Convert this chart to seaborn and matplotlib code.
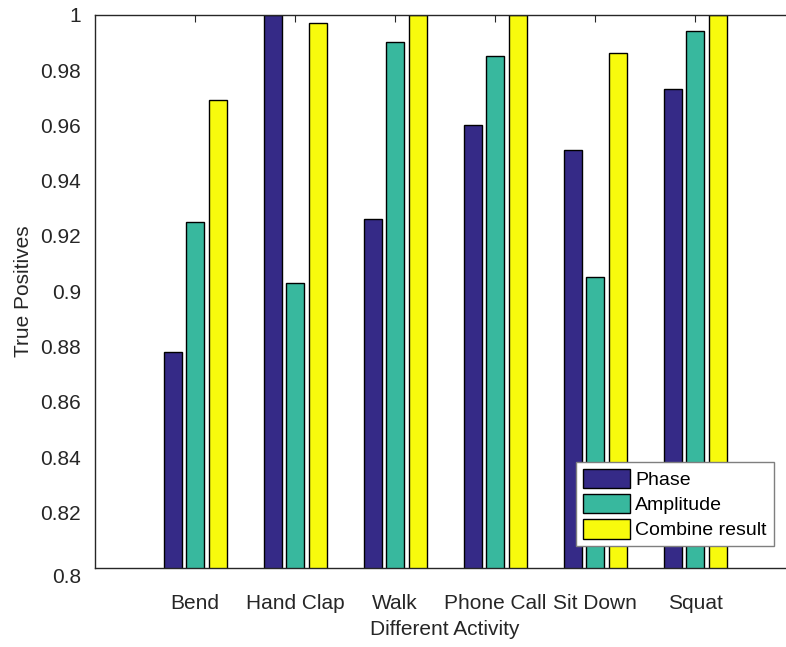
import matplotlib
matplotlib.use("Agg")
import matplotlib.pyplot as plt
import seaborn as sns
import pandas as pd

activities = ["Bend", "Hand Clap", "Walk", "Phone Call", "Sit Down", "Squat"]
methods = ["Phase", "Amplitude", "Combine result"]
phase = [0.878, 1.000, 0.926, 0.960, 0.951, 0.973]
amplitude = [0.925, 0.903, 0.990, 0.985, 0.905, 0.994]
combined = [0.969, 0.997, 1.000, 1.000, 0.986, 1.000]
y_ticks = [0.80, 0.82, 0.84, 0.86, 0.88, 0.90, 0.92, 0.94, 0.96, 0.98, 1.00]
colors = ["#352A87", "#38B89E", "#F8FA0D"]

df = pd.DataFrame({
    "Activity": activities * 3,
    "Method": [m for m in methods for _ in activities],
    "Value": phase + amplitude + combined,
})

sns.set_style("white")
plt.rcParams["font.family"] = ["Liberation Sans", "DejaVu Sans"]
ink = "#262626"

fig = plt.figure(figsize=(7.86, 6.47), dpi=100)
ax = fig.add_axes([95 / 786, 1 - 567.7 / 647, 700 / 786, (567.7 - 14.7) / 647])

sns.barplot(data=df, x="Activity", y="Value", hue="Method", order=activities,
            hue_order=methods, palette=colors, saturation=1, width=0.675, gap=0.2,
            edgecolor="black", linewidth=1.0, ax=ax, zorder=2)

ax.set_xlim(-1, 6)
ax.set_ylim(0.8, 1.0)
ax.set_yticks(y_ticks)
ax.set_yticklabels([f"{v:g}" for v in y_ticks])

for side in ["left", "top", "bottom", "right"]:
    ax.spines[side].set_visible(True)
    ax.spines[side].set_color(ink)
    ax.spines[side].set_linewidth(1.0)

ax.tick_params(axis="y", direction="in", length=5, width=0.8, colors=ink,
               labelsize=15, pad=10, right=True)
ax.tick_params(axis="x", direction="in", length=5, width=0.8, colors=ink,
               labelsize=15, pad=19, top=True, bottom=False)

# lowest y label sits just below the baseline so it clears the x axis
ax.yaxis.get_major_ticks()[0].label1.set_verticalalignment("top")

ax.set_xlabel("Different Activity", fontsize=15, color=ink, labelpad=5)
ax.set_ylabel("True Positives", fontsize=15, color=ink, labelpad=5)

leg = ax.legend(loc="lower right", bbox_to_anchor=(773.7 / 786, 1 - 546.3 / 647),
                bbox_transform=fig.transFigure, borderaxespad=0, fontsize=14,
                frameon=True, fancybox=False, framealpha=1, handlelength=2.4,
                handleheight=1.15, handletextpad=0.3, labelspacing=0.25,
                borderpad=0.35)
leg.get_frame().set_edgecolor("#7f7f7f")
leg.get_frame().set_linewidth(1.0)
for t in leg.get_texts():
    t.set_color("black")

fig.savefig("out.png", dpi=100)
